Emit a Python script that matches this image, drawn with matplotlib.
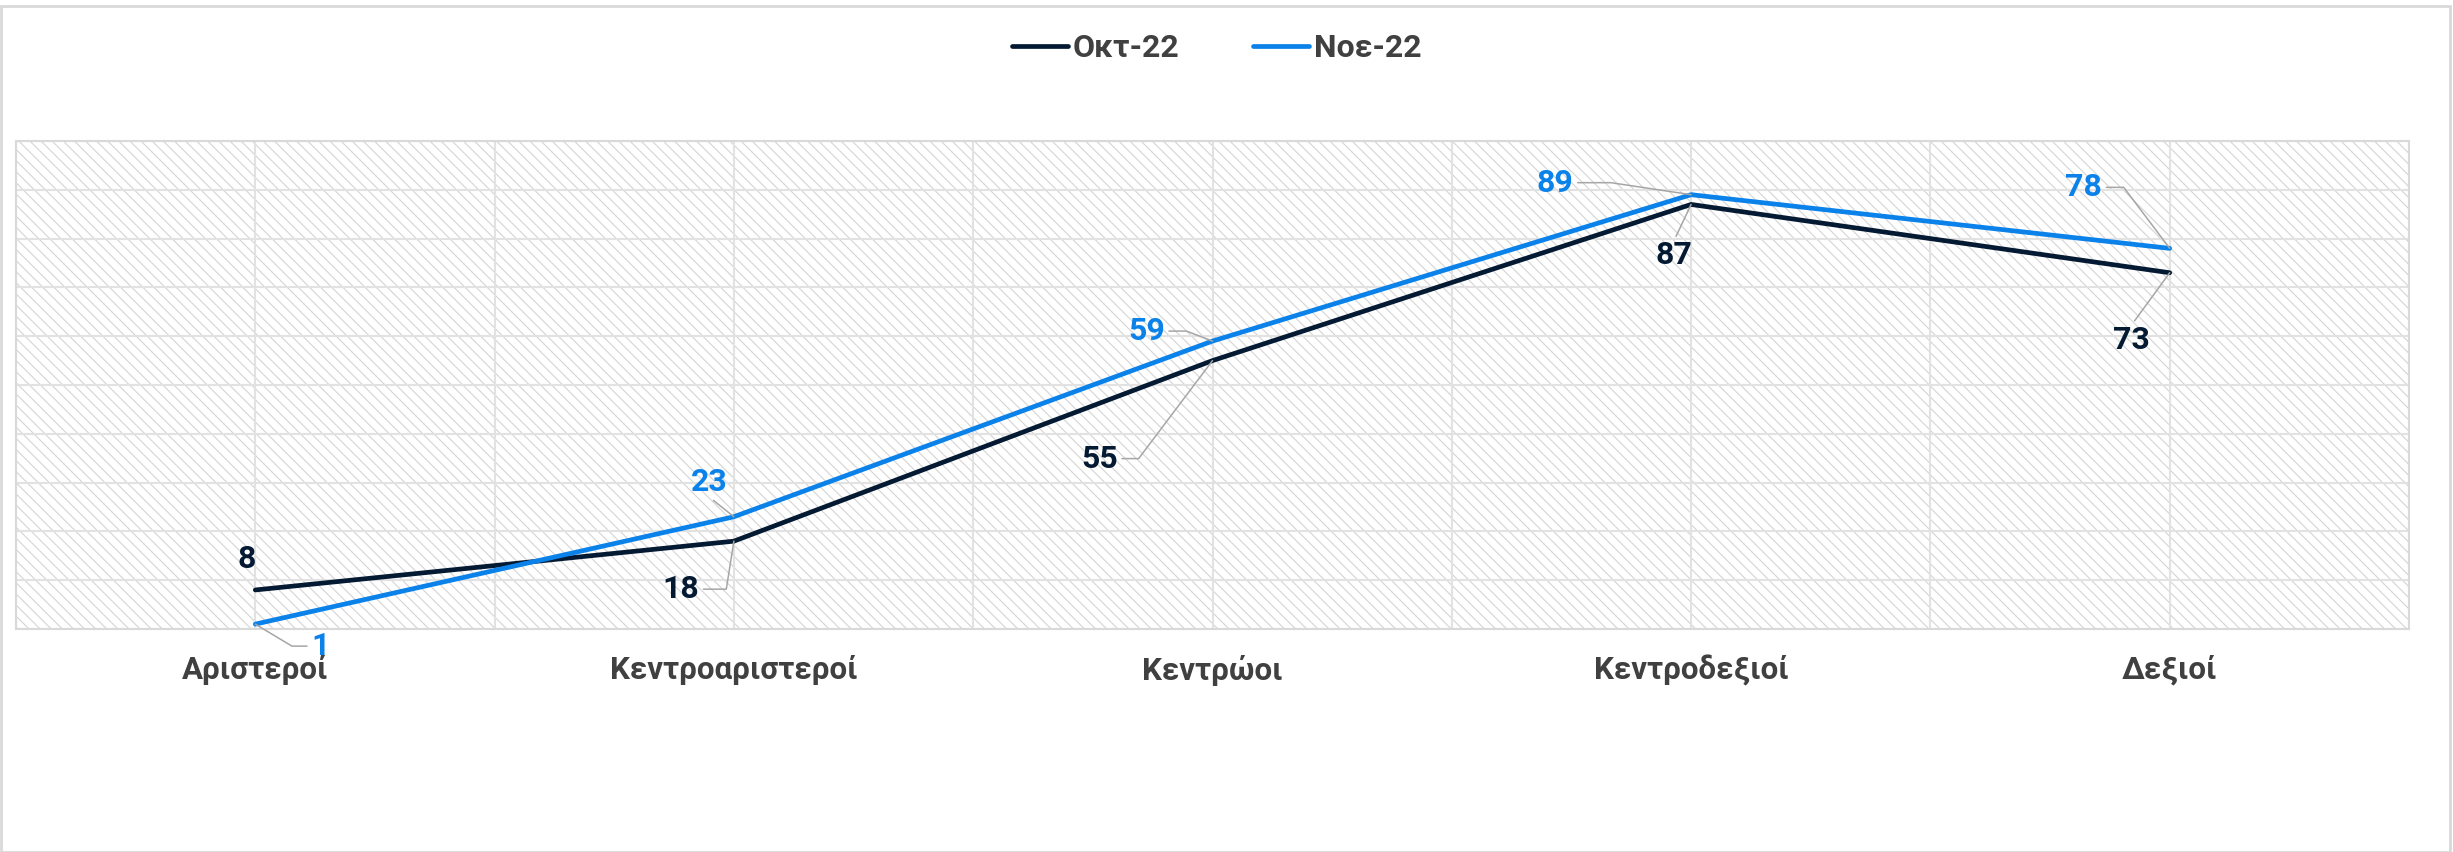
import numpy as np
import matplotlib
matplotlib.use("Agg")
import matplotlib.pyplot as plt
from matplotlib.patches import Rectangle
from matplotlib.lines import Line2D

# ---- data ----
categories = ["Αριστεροί", "Κεντροαριστεροί", "Κεντρώοι", "Κεντροδεξιοί", "Δεξιοί"]
series_names = ["Οκτ-22", "Νοε-22"]
okt_values = [8, 18, 55, 87, 73]
noe_values = [1, 23, 59, 89, 78]

# ---- style ----
W, H, DPI = 2453, 852, 100
C_OKT = "#041a33"
C_NOE = "#0a82ea"
C_TXT = "#404040"
C_GRID = "#e2e2e2"
C_LEAD = "#a6a6a6"
FONT = ["Roboto", "DejaVu Sans"]
plt.rcParams["font.family"] = FONT
plt.rcParams["hatch.linewidth"] = 0.8
plt.rcParams["hatch.color"] = "#d4d4d4"

fig = plt.figure(figsize=(W / DPI, H / DPI), dpi=DPI)
fig.patch.set_facecolor("white")

L, R, T, B = 16, 2409, 141, 629
ax = fig.add_axes([L / W, 1 - B / H, (R - L) / W, (B - T) / H])
ax.set_facecolor("none")

# hatched plot background
bg = Rectangle((0, 0), 1, 1, transform=ax.transAxes, facecolor="white",
               edgecolor="#d4d4d4", hatch="\\\\\\", lw=0, zorder=0)
ax.add_patch(bg)

x = np.arange(len(categories))
ax.set_xlim(-0.5, len(categories) - 0.5)
ax.set_ylim(0, 100)
ax.set_yticks(np.arange(0, 101, 10))
ax.set_yticklabels([])
ax.set_xticks(x)
ax.set_xticks(np.arange(-0.5, len(categories), 1.0), minor=True)
ax.set_xticklabels(categories, fontsize=22.5, fontweight="bold", color=C_TXT)
ax.tick_params(axis="both", which="both", length=0)
ax.tick_params(axis="x", pad=18.5)
ax.grid(True, which="both", color=C_GRID, lw=1.5, zorder=1)
ax.set_axisbelow(True)
for s in ax.spines.values():
    s.set_color("#d9d9d9")
    s.set_linewidth(1.5)

ax.plot(x, okt_values, color=C_OKT, lw=3.4, solid_capstyle="round",
        solid_joinstyle="miter", zorder=3, label=series_names[0])
ax.plot(x, noe_values, color=C_NOE, lw=3.4, solid_capstyle="round",
        solid_joinstyle="miter", zorder=4, label=series_names[1])

# data labels: (dx, dy) pixel offsets, relpos, connection
okt_lab = [
    dict(off=(-9, 31), rel=None, conn=None),
    dict(off=(-53, -48), rel=(1, 0.5), conn="angle,angleA=0,angleB=81,rad=0"),
    dict(off=(-113, -98), rel=(1, 0.5), conn="angle,angleA=0,angleB=53,rad=0"),
    dict(off=(-17, -51), rel=(0.5, 1), conn="arc3"),
    dict(off=(-38, -67), rel=(0.5, 1), conn="arc3"),
]
noe_lab = [
    dict(off=(65, -22), rel=(0, 0.5), conn="angle,angleA=0,angleB=-31,rad=0"),
    dict(off=(-25, 35), rel=(0.5, 0), conn="arc3"),
    dict(off=(-66, 10), rel=(1, 0.5), conn="angle,angleA=0,angleB=-21,rad=0"),
    dict(off=(-136, 12), rel=(1, 0.5), conn="angle,angleA=0,angleB=-8.5,rad=0"),
    dict(off=(-86, 61), rel=(1, 0.5), conn="angle,angleA=0,angleB=-53,rad=0"),
]

def put_labels(vals, specs, color):
    for i, (v, sp) in enumerate(zip(vals, specs)):
        kw = dict(textcoords="offset pixels", ha="center", va="center",
                  fontsize=23, fontweight="bold", color=color, zorder=6)
        if sp["conn"] is not None:
            kw["arrowprops"] = dict(arrowstyle="-", color=C_LEAD, lw=1.1,
                                    connectionstyle=sp["conn"],
                                    relpos=sp["rel"], shrinkA=1, shrinkB=0)
        ax.annotate(str(v), xy=(x[i], v), xytext=sp["off"], **kw)

put_labels(okt_values, okt_lab, C_OKT)
put_labels(noe_values, noe_lab, C_NOE)

# legend
handles = [Line2D([], [], color=C_OKT, lw=3.4, solid_capstyle="round"),
           Line2D([], [], color=C_NOE, lw=3.4, solid_capstyle="round")]
leg = fig.legend(handles, series_names, loc="center",
                 bbox_to_anchor=(1217 / W, 1 - 48 / H), ncol=2, frameon=False,
                 prop=dict(family=FONT, weight="bold", size=23),
                 handlelength=1.75, handletextpad=0.15, columnspacing=2.3,
                 borderpad=0)
for t in leg.get_texts():
    t.set_color(C_TXT)

# chart border
fig.add_artist(Rectangle((0.5 / W, 0.5 / H), (2450 - 0.5) / W, (852 - 6.5) / H,
                         transform=fig.transFigure, fill=False,
                         edgecolor="#d9d9d9", lw=2))

fig.savefig("out.png", dpi=DPI, facecolor="white")
